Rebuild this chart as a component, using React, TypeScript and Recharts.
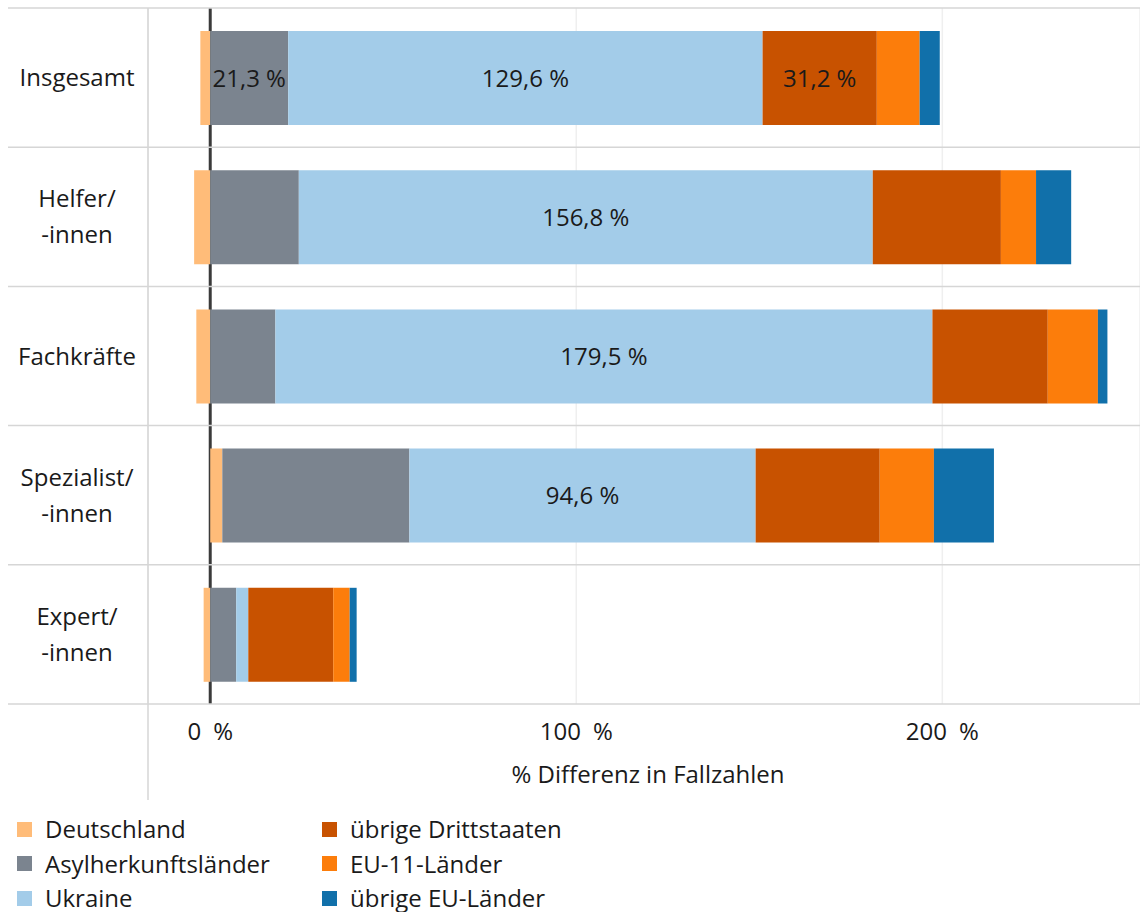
import React from 'react';
import { BarChart, Bar, XAxis, YAxis, CartesianGrid, ReferenceLine, LabelList } from 'recharts';

const categories = ['Insgesamt', 'Helfer/\n-innen', 'Fachkräfte', 'Spezialist/\n-innen', 'Expert/\n-innen'];
const deutschland = [-2.7, -4.4, -3.8, 3.3, -1.8];
const asyl = [21.3, 24.2, 17.8, 51.1, 7.1];
const ukraine = [129.6, 156.8, 179.5, 94.6, 3.3];
const dritt = [31.2, 35.0, 31.5, 33.9, 23.2];
const eu11 = [11.7, 9.6, 13.7, 14.8, 4.5];
const uebrigeEU = [5.5, 9.6, 2.6, 16.4, 1.9];

const asylLabels = ['21,3 %', '', '', '', ''];
const ukraineLabels = ['129,6 %', '156,8 %', '179,5 %', '94,6 %', ''];
const drittLabels = ['31,2 %', '', '', '', ''];

const xTicks = [0, 100, 200];
const xTickLabels = ['0\u2002%', '100\u2002%', '200\u2002%'];
const xTitle = '% Differenz in Fallzahlen';

const series = [
  { key: 'de', name: 'Deutschland', values: deutschland, labels: null as string[] | null, color: '#FFBC79' },
  { key: 'asyl', name: 'Asylherkunftsländer', values: asyl, labels: asylLabels, color: '#7B848F' },
  { key: 'ua', name: 'Ukraine', values: ukraine, labels: ukraineLabels, color: '#A3CCE9' },
  { key: 'dritt', name: 'übrige Drittstaaten', values: dritt, labels: drittLabels, color: '#C85200' },
  { key: 'eu11', name: 'EU-11-Länder', values: eu11, labels: null as string[] | null, color: '#FC7D0B' },
  { key: 'eu', name: 'übrige EU-Länder', values: uebrigeEU, labels: null as string[] | null, color: '#1170AA' },
];

const data = categories.map((name, i) => {
  const row: any = { name };
  series.forEach((s) => {
    row[s.key] = s.values[i];
    if (s.labels) row[s.key + 'Label'] = s.labels[i];
  });
  return row;
});

const FONT = "'Open Sans', sans-serif";
const FS = 24;
const TEXT = '#1a1a1a';
const CHART_W = 1140;
const CHART_H = 800;
const MARGIN = { top: 8, right: 0, left: 8, bottom: 0 };
const YAXIS_W = 140;
const XAXIS_H = 96;
const PLOT_LEFT = MARGIN.left + YAXIS_W;
const PLOT_H = CHART_H - MARGIN.top - MARGIN.bottom - XAXIS_H;

const YTick = (props: any) => {
  const { y, payload, index } = props;
  const half = payload && payload.offset ? payload.offset : PLOT_H / categories.length / 2;
  const lines = String(payload.value).split('\n');
  const lh = 36;
  const cx = MARGIN.left + YAXIS_W / 2 - 1;
  return (
    <g>
      <line x1={MARGIN.left} x2={CHART_W} y1={y - half} y2={y - half} stroke="#d6d6d6" strokeWidth={1.5} />
      {index === categories.length - 1 && (
        <line x1={MARGIN.left} x2={CHART_W} y1={y + half} y2={y + half} stroke="#d6d6d6" strokeWidth={1.5} />
      )}
      {index === 0 && (
        <line x1={PLOT_LEFT} x2={PLOT_LEFT} y1={y - half} y2={CHART_H + 1} stroke="#d6d6d6" strokeWidth={1.5} />
      )}
      <text x={cx} y={y} textAnchor="middle" fontSize={FS} fill={TEXT} fontFamily={FONT}>
        {lines.map((l, i) => (
          <tspan key={i} x={cx} y={y + (i - (lines.length - 1) / 2) * lh} dy="0.36em">
            {l}
          </tspan>
        ))}
      </text>
    </g>
  );
};

export default function App() {
  return (
    <div style={{ position: 'absolute', left: 0, top: 0, width: 1140, height: 912, fontFamily: FONT, background: '#fff' }}>
      <BarChart
        width={CHART_W}
        height={CHART_H}
        data={data}
        layout="vertical"
        stackOffset="sign"
        margin={MARGIN}
        barSize={94}
      >
        <CartesianGrid horizontal={false} vertical stroke="#efefef" strokeWidth={1.5} />
        <XAxis
          type="number"
          domain={[-17, 254]}
          ticks={xTicks}
          allowDataOverflow
          tickFormatter={(v: number) => xTickLabels[xTicks.indexOf(v)]}
          axisLine={false}
          tickLine={false}
          tickSize={6}
          tickMargin={13}
          height={XAXIS_H}
          tick={{ fontSize: FS, fill: TEXT, fontFamily: FONT }}
          label={{ value: xTitle, position: 'insideBottom', offset: 17, fontSize: FS, fill: TEXT, fontFamily: FONT, dx: 4 }}
        />
        <YAxis
          type="category"
          dataKey="name"
          width={YAXIS_W}
          axisLine={false}
          tickLine={false}
          interval={0}
          tick={<YTick />}
        />
        <ReferenceLine x={0} stroke="#3a3a3a" strokeWidth={3} zIndex={250} />
        {series.map((s) => (
          <Bar key={s.key} dataKey={s.key} name={s.name} stackId="a" fill={s.color} isAnimationActive={false}>
            {s.labels && (
              <LabelList
                dataKey={s.key + 'Label'}
                position="center"
                fill={TEXT}
                fontSize={FS}
                fontFamily={FONT}
              />
            )}
          </Bar>
        ))}
      </BarChart>
      <div
        style={{
          position: 'absolute',
          left: 17,
          top: 812,
          display: 'grid',
          gridTemplateColumns: '305px auto',
          gridTemplateRows: 'repeat(3, 34.5px)',
          gridAutoFlow: 'column',
        }}
      >
        {series.map((s) => (
          <div key={s.key} style={{ display: 'flex', alignItems: 'center', gap: 13 }}>
            <span style={{ width: 15, height: 15, background: s.color, display: 'inline-block', flex: 'none' }} />
            <span style={{ fontSize: FS, color: TEXT, lineHeight: '34.5px', whiteSpace: 'nowrap' }}>{s.name}</span>
          </div>
        ))}
      </div>
    </div>
  );
}
